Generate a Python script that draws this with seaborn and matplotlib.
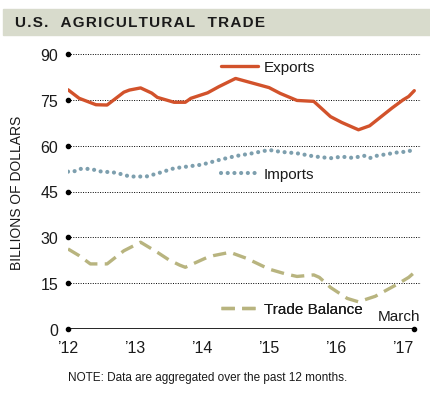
import numpy as np
import pandas as pd
import matplotlib
matplotlib.use('Agg')
import matplotlib.pyplot as plt
from matplotlib.lines import Line2D
from matplotlib.patches import Rectangle
import seaborn as sns

# months since Jan 2012, values in billions of dollars (12-month aggregates)
export_months = [0, 2, 5, 7, 10, 11, 13, 15, 16, 19, 21, 22, 25, 27, 30, 32, 36, 38,
                 41, 44, 47, 49, 52, 54, 58, 60, 61, 62]
exports = [78.3, 75.5, 73.4, 73.3, 77.5, 78.2, 78.9, 77.2, 75.8, 74.2, 74.2, 75.5,
           77.3, 79.3, 82.0, 81.0, 79.0, 77.1, 74.8, 74.5, 69.5, 67.6, 65.2, 66.5,
           72.3, 75.0, 76.1, 78.0]

import_months = [0, 1, 2, 4, 6, 8, 10, 11, 14, 16, 19, 24, 27, 30, 33, 36, 38, 41,
                 44, 47, 49, 51, 53, 54, 55, 59, 61, 62]
imports = [51.5, 51.5, 52.4, 52.4, 51.5, 51.3, 50.5, 49.9, 49.9, 50.9, 52.6, 53.8,
           55.3, 56.6, 57.5, 58.6, 58.0, 57.5, 56.5, 55.9, 56.4, 56.0, 56.7, 55.9,
           56.6, 57.8, 58.1, 59.1]

balance_months = [0, 2, 4, 7, 10, 13, 16, 18, 20, 21, 25, 26, 29, 32, 36, 39, 41,
                  44, 45, 47, 50, 52, 55, 59, 61, 62]
balance = [26.2, 24.0, 21.3, 21.3, 25.6, 28.4, 25.1, 22.7, 20.9, 20.2, 23.5, 24.0,
           25.1, 23.1, 19.6, 18.0, 17.2, 17.7, 16.9, 13.6, 10.0, 8.9, 10.7, 14.7,
           16.9, 18.5]

year_ticks = [0, 12, 24, 36, 48, 60]
year_labels = ["\u201912", "\u201913", "\u201914", "\u201915", "\u201916", "\u201917"]
y_ticks = [0, 15, 30, 45, 60, 75, 90]

exp_color = '#d2522b'
imp_color = '#7d9fae'
bal_color = '#b8b47f'
ink = '#1a1a1a'

sns.set_style('white')
plt.rcParams['font.family'] = ['Liberation Sans', 'DejaVu Sans']

fig = plt.figure(figsize=(4.3, 4.02), dpi=100)
ax = fig.add_axes([68 / 430, 72 / 402, 353 / 430, 275 / 402])

# title band, letter-spaced title
title = '   '.join('\u200a'.join(w) for w in "U.S. AGRICULTURAL TRADE".split())
fig.patches.append(Rectangle((3 / 430, (402 - 36) / 402), 427 / 430, 26 / 402,
                             transform=fig.transFigure, color='#d8dbcc', zorder=0))
fig.text(15 / 430, (402 - 23) / 402, title,
         fontsize=11, fontweight='bold', color=ink, va='center', ha='left')

# gridlines and axis
for y in y_ticks[1:]:
    ax.axhline(y, color='black', lw=0.7, ls=(0, (1, 1.5)), zorder=1)
ax.axhline(0, xmax=62 / 63.2, color='black', lw=1.2, zorder=1)
ax.plot(np.zeros(len(y_ticks)), y_ticks, 'o', color='black', ms=3, clip_on=False, zorder=3)
ax.plot([year_ticks[-1] + 2], [0], 'o', color='black', ms=3, clip_on=False, zorder=3)

df_exp = pd.DataFrame({'month': export_months, 'value': exports})
df_imp = pd.DataFrame({'month': import_months, 'value': imports})
df_bal = pd.DataFrame({'month': balance_months, 'value': balance})

sns.lineplot(data=df_exp, x='month', y='value', ax=ax, color=exp_color, lw=2.4,
             solid_capstyle='round', zorder=4)
sns.lineplot(data=df_imp, x='month', y='value', ax=ax, color=imp_color, lw=3,
             ls=(0, (0.01, 1.6)), dash_capstyle='round', zorder=4)
sns.lineplot(data=df_bal, x='month', y='value', ax=ax, color=bal_color, lw=2.4,
             ls=(0, (4, 2.2)), zorder=4)

ax.set_xlim(0, 63.2)
ax.set_ylim(0, 90)
ax.set_xticks(year_ticks)
ax.set_xticklabels(year_labels)
ax.set_yticks(y_ticks)
ax.tick_params(axis='both', length=0, labelsize=11.5, colors=ink)
ax.tick_params(axis='y', pad=7)
ax.tick_params(axis='x', pad=8)
for s in ax.spines.values():
    s.set_visible(False)
ax.set_xlabel('')
ax.set_ylabel('BILLIONS OF DOLLARS', fontsize=10, color=ink, labelpad=12)
ax.patch.set_alpha(0)

# inline legends
def add_key(handle, label, anchor):
    leg = ax.legend([handle], [label], loc='center left', bbox_to_anchor=anchor,
                    frameon=False, handlelength=2.4, handletextpad=0.4,
                    fontsize=11, borderaxespad=0, borderpad=0, labelcolor=ink)
    ax.add_artist(leg)

add_key(Line2D([], [], color=exp_color, lw=2.4), 'Exports', (27.4 / 63.2, 85.7 / 90))
add_key(Line2D([], [], color=imp_color, lw=3, ls=(0, (0.01, 1.6)), dash_capstyle='round'),
        'Imports', (27.4 / 63.2, 50.6 / 90))
add_key(Line2D([], [], color=bal_color, lw=2.4, ls=(0, (4, 2.2))), 'Trade Balance',
        (27.4 / 63.2, 6.5 / 90))

ax.text(63.0, 1.8, 'March', fontsize=11, ha='right', va='bottom', color=ink)
fig.text(68 / 430, (402 - 378) / 402, 'NOTE: Data are aggregated over the past 12 months.',
         fontsize=8.5, color=ink, va='center', ha='left')

fig.savefig('out.png', dpi=100)
